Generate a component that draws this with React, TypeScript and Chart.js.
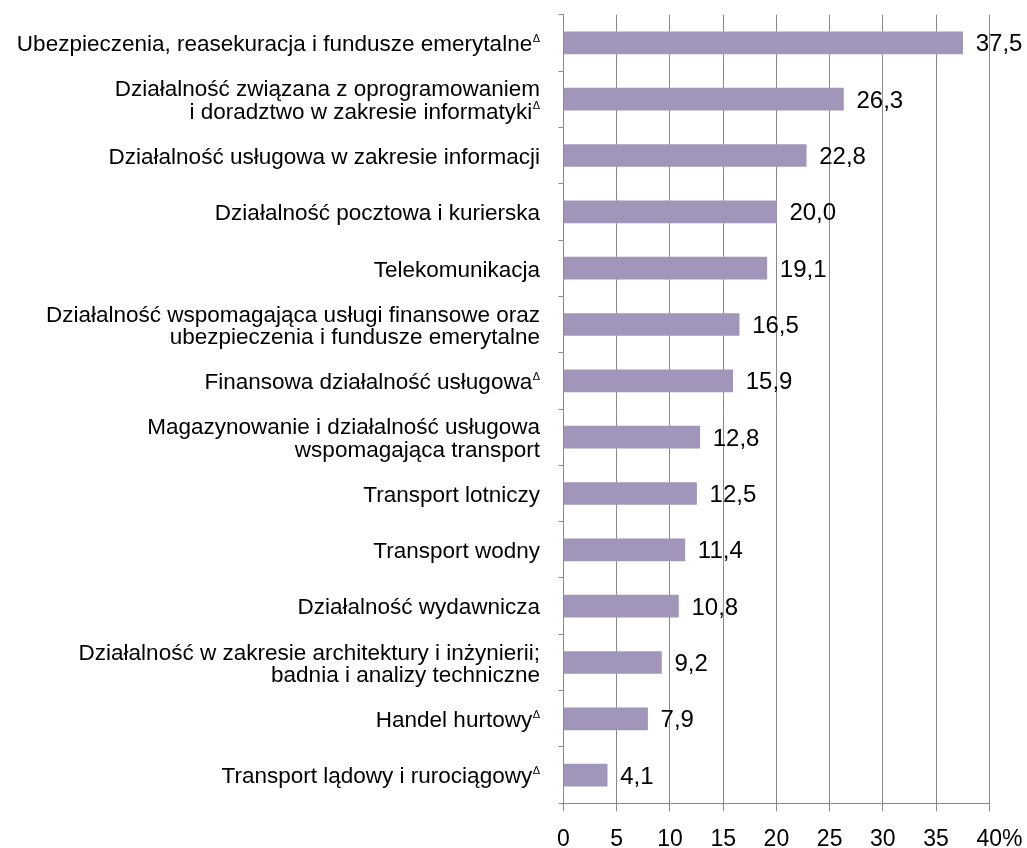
import React, { useEffect, useRef } from "react";
import { Chart, registerables } from "chart.js";

Chart.register(...registerables);

const categoryLines: string[][] = [
  ["Ubezpieczenia, reasekuracja i fundusze emerytalne"],
  ["Działalność związana z oprogramowaniem", "i doradztwo w zakresie informatyki"],
  ["Działalność usługowa w zakresie informacji"],
  ["Działalność pocztowa i kurierska"],
  ["Telekomunikacja"],
  ["Działalność wspomagająca usługi finansowe oraz", "ubezpieczenia i fundusze emerytalne"],
  ["Finansowa działalność usługowa"],
  ["Magazynowanie i działalność usługowa", "wspomagająca transport"],
  ["Transport lotniczy"],
  ["Transport wodny"],
  ["Działalność wydawnicza"],
  ["Działalność w zakresie architektury i inżynierii;", "badnia i analizy techniczne"],
  ["Handel hurtowy"],
  ["Transport lądowy i rurociągowy"],
];

const deltaMarks: boolean[] = [
  true, true, false, false, false, false, true, false, false, false, false, false, true, true,
];

const values: number[] = [37.5, 26.3, 22.8, 20.0, 19.1, 16.5, 15.9, 12.8, 12.5, 11.4, 10.8, 9.2, 7.9, 4.1];

const xTicks: number[] = [0, 5, 10, 15, 20, 25, 30, 35, 40];

const FONT = '"Liberation Sans", Arial, sans-serif';
const BAR_COLOR = "#a196b9";
const GRID_COLOR = "#8a8a8a";

const fmt = (v: number) => v.toFixed(1).replace(".", ",");

const textPlugin = {
  id: "customText",
  afterDraw(chart: any) {
    const ctx = chart.ctx as CanvasRenderingContext2D;
    const xs = chart.scales.x;
    const ys = chart.scales.y;
    const area = chart.chartArea;
    ctx.save();
    ctx.fillStyle = "#000";
    ctx.textBaseline = "alphabetic";

    // category labels
    const catSize = 22.5;
    const lineGap = 22.5;
    categoryLines.forEach((lines, i) => {
      const cy = ys.getPixelForValue(i);
      const n = lines.length;
      lines.forEach((line, j) => {
        const lc = cy + (j - (n - 1) / 2) * lineGap;
        const base = lc + catSize * 0.37;
        let right = area.left - 23.5;
        if (deltaMarks[i] && j === n - 1) {
          ctx.font = `11px ${FONT}`;
          ctx.textAlign = "right";
          const w = ctx.measureText("Δ").width;
          ctx.fillText("Δ", right, base - catSize * 0.42);
          right -= w + 0.5;
        }
        ctx.font = `${catSize}px ${FONT}`;
        ctx.textAlign = "right";
        ctx.fillText(line, right, base);
      });
    });

    // value labels
    const valSize = 24;
    ctx.font = `${valSize}px ${FONT}`;
    ctx.textAlign = "left";
    const meta = chart.getDatasetMeta(0);
    meta.data.forEach((bar: any, i: number) => {
      ctx.fillText(fmt(values[i]), bar.x + 13, bar.y + valSize * 0.358);
    });

    // x tick labels
    const tickSize = 23;
    ctx.font = `${tickSize}px ${FONT}`;
    const tickBase = 838 + tickSize * 0.358;
    xTicks.forEach((t) => {
      const px = xs.getPixelForValue(t);
      const s = String(t);
      ctx.textAlign = "center";
      ctx.fillText(s, px, tickBase);
      if (t === xTicks[xTicks.length - 1]) {
        const w = ctx.measureText(s).width;
        ctx.textAlign = "left";
        ctx.fillText("%", px + w / 2, tickBase);
      }
    });
    ctx.restore();
  },
};

export default function App() {
  const ref = useRef<HTMLCanvasElement | null>(null);

  useEffect(() => {
    document.body.style.margin = "0";
    document.body.style.overflow = "hidden";
    if (!ref.current) return;
    const chart = new Chart(ref.current, {
      type: "bar",
      data: {
        labels: categoryLines.map((l) => l.join(" ")),
        datasets: [
          {
            data: values,
            backgroundColor: BAR_COLOR,
            borderWidth: 0,
            barThickness: 22,
          },
        ],
      },
      options: {
        indexAxis: "y",
        responsive: false,
        animation: false,
        layout: { padding: { top: 14.7, right: 37.7, left: 0, bottom: 0 } },
        plugins: {
          legend: { display: false },
          tooltip: { enabled: false },
          title: { display: false },
        },
        scales: {
          x: {
            type: "linear",
            min: 0,
            max: 40,
            ticks: { display: false, stepSize: 5 },
            grid: {
              display: true,
              color: GRID_COLOR,
              lineWidth: 1,
              drawOnChartArea: true,
              drawTicks: true,
              tickLength: 8,
            },
            border: { display: true, color: GRID_COLOR, width: 1 },
            afterFit: (scale: any) => {
              scale.height = 44.7;
            },
          },
          y: {
            type: "category",
            ticks: { display: false },
            grid: {
              display: true,
              offset: true,
              color: GRID_COLOR,
              drawOnChartArea: false,
              drawTicks: true,
              tickLength: 5,
            },
            border: { display: true, color: GRID_COLOR, width: 1 },
            afterFit: (scale: any) => {
              scale.width = 563.5;
            },
          },
        },
      },
      plugins: [textPlugin],
    });
    return () => chart.destroy();
  }, []);

  return <canvas ref={ref} width={1027} height={848} style={{ display: "block" }} />;
}
